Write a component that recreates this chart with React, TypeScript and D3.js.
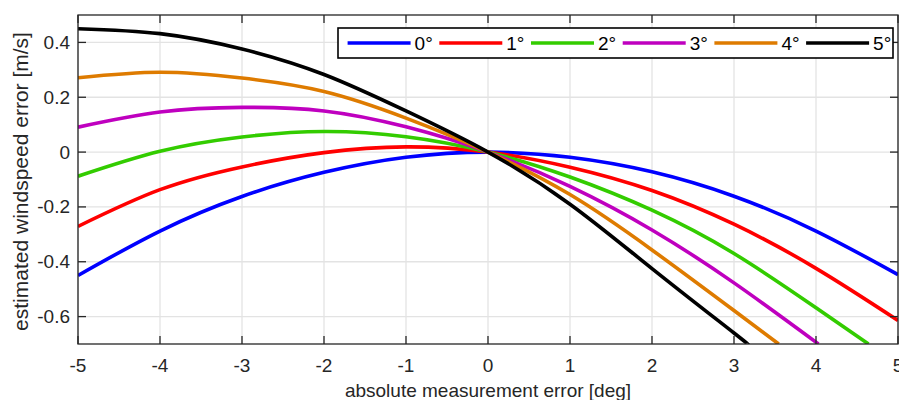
import React from "react";
import * as d3 from "d3";

// ---- data ----
const xTicks = [-5, -4, -3, -2, -1, 0, 1, 2, 3, 4, 5];
const yTicks = [-0.6, -0.4, -0.2, 0, 0.2, 0.4];
const seriesNames = ["0°", "1°", "2°", "3°", "4°", "5°"];
const seriesColors = ["#0000ff", "#ff0000", "#33cc00", "#bf00bf", "#de7b00", "#000000"];

const errFull = [-5, -4, -3, -2, -1, 0, 1, 2, 3, 4, 5];
const val0 = [-0.45, -0.288, -0.162, -0.074, -0.019, 0, -0.019, -0.072, -0.161, -0.288, -0.447];
const val1 = [-0.271, -0.137, -0.054, -0.002, 0.019, 0, -0.055, -0.14, -0.263, -0.424, -0.614];
const err2 = [-5, -4, -3, -2, -1, 0, 1, 2, 3, 4, 4.64];
const val2 = [-0.088, 0.003, 0.055, 0.075, 0.056, 0, -0.091, -0.212, -0.37, -0.568, -0.7];
const err3 = [-5, -4, -3, -2, -1, 0, 1, 2, 3, 4.03];
const val3 = [0.091, 0.146, 0.163, 0.15, 0.092, 0, -0.125, -0.284, -0.477, -0.7];
const err4 = [-5, -4, -3, -2, -1, 0, 1, 2, 3, 3.545];
const val4 = [0.271, 0.291, 0.27, 0.221, 0.124, 0, -0.155, -0.357, -0.578, -0.7];
const err5 = [-5, -4, -3, -2, -1, 0, 1, 2, 3, 3.16];
const val5 = [0.45, 0.432, 0.376, 0.283, 0.15, 0, -0.19, -0.425, -0.66, -0.7];

const seriesX = [errFull, errFull, err2, err3, err4, err5];
const seriesY = [val0, val1, val2, val3, val4, val5];

const W = 899;
const H = 400;
const M = { left: 78, right: 898, top: 15, bottom: 344 };
const AX = "#262626";
const GRID = "#e3e3e3";
const FONT = "'Liberation Sans', Arial, Helvetica, sans-serif";

export default function App() {
  const x = d3.scaleLinear().domain([-5, 5]).range([M.left, M.right]);
  const y = d3.scaleLinear().domain([-0.7, 0.5]).range([M.bottom, M.top]);
  const line = d3
    .line<[number, number]>()
    .x((d) => x(d[0]))
    .y((d) => y(d[1]))
    .curve(d3.curveNatural);

  const fmtY = (v: number) => (Math.abs(v) < 1e-9 ? "0" : String(+v.toFixed(1)));
  const tickLen = 8;

  const legX = 338;
  const legY = 28;
  const legW = 555;
  const legH = 30;
  const pitch = 91.7;

  return (
    <svg
      width={W}
      height={H}
      style={{ position: "absolute", left: 0, top: 0, background: "#fff" }}
      fontFamily={FONT}
    >
      <defs>
        <clipPath id="plotclip">
          <rect x={M.left} y={M.top} width={M.right - M.left} height={M.bottom - M.top} />
        </clipPath>
      </defs>
      <rect x={0} y={0} width={W} height={H} fill="#fff" />
      {/* grid */}
      {xTicks.map((t) => (
        <line key={"gx" + t} x1={x(t)} x2={x(t)} y1={M.top} y2={M.bottom} stroke={GRID} strokeWidth={1.3} />
      ))}
      {yTicks.map((t) => (
        <line key={"gy" + t} x1={M.left} x2={M.right} y1={y(t)} y2={y(t)} stroke={GRID} strokeWidth={1.3} />
      ))}
      {/* curves */}
      <g clipPath="url(#plotclip)">
        {seriesY.map((vals, i) => (
          <path
            key={"s" + i}
            d={line(vals.map((v, j) => [seriesX[i][j], v] as [number, number])) || ""}
            fill="none"
            stroke={seriesColors[i]}
            strokeWidth={3.6}
            strokeLinejoin="round"
          />
        ))}
      </g>
      {/* axes box */}
      <rect
        x={M.left}
        y={M.top}
        width={M.right - M.left}
        height={M.bottom - M.top}
        fill="none"
        stroke={AX}
        strokeWidth={1.3}
      />
      {/* ticks */}
      {xTicks.map((t) => (
        <g key={"tx" + t}>
          <line x1={x(t)} x2={x(t)} y1={M.bottom} y2={M.bottom - tickLen} stroke={AX} strokeWidth={1.3} />
          <line x1={x(t)} x2={x(t)} y1={M.top} y2={M.top + tickLen} stroke={AX} strokeWidth={1.3} />
          <text x={x(t)} y={372} textAnchor="middle" fontSize={19} fill={AX}>
            {String(t)}
          </text>
        </g>
      ))}
      {yTicks.map((t) => (
        <g key={"ty" + t}>
          <line x1={M.left} x2={M.left + tickLen} y1={y(t)} y2={y(t)} stroke={AX} strokeWidth={1.3} />
          <line x1={M.right} x2={M.right - tickLen} y1={y(t)} y2={y(t)} stroke={AX} strokeWidth={1.3} />
          <text x={70} y={y(t) + 6.5} textAnchor="end" fontSize={19} fill={AX}>
            {fmtY(t)}
          </text>
        </g>
      ))}
      {/* axis labels */}
      <text x={(M.left + M.right) / 2} y={397} textAnchor="middle" fontSize={19} fill={AX}>
        absolute measurement error [deg]
      </text>
      <text
        transform={`translate(28, ${(M.top + M.bottom) / 2 + 2}) rotate(-90)`}
        textAnchor="middle"
        fontSize={21}
        fill={AX}
      >
        estimated windspeed error [m/s]
      </text>
      {/* legend */}
      <rect x={legX} y={legY} width={legW} height={legH} fill="#fff" stroke="#000" strokeWidth={1.6} />
      {seriesNames.map((name, i) => {
        const sx = legX + 9.6 + i * pitch;
        return (
          <g key={"leg" + i}>
            <line x1={sx} x2={sx + 63} y1={legY + 15} y2={legY + 15} stroke={seriesColors[i]} strokeWidth={3.6} />
            <text x={sx + 67} y={legY + 22} fontSize={19} fill="#000">
              {name}
            </text>
          </g>
        );
      })}
    </svg>
  );
}
